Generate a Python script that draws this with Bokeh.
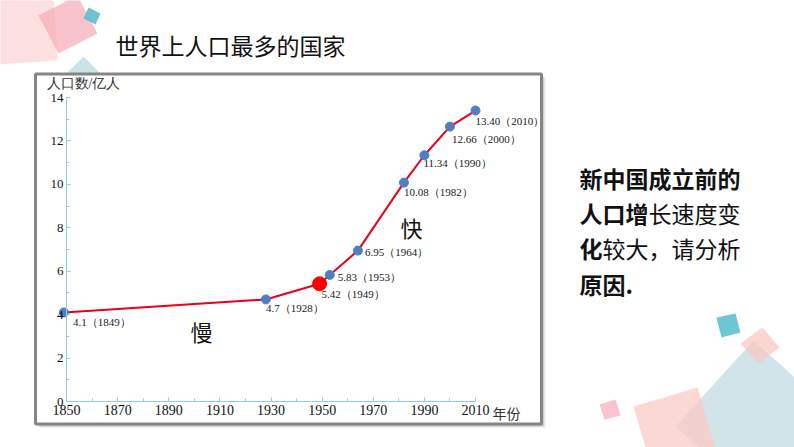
from bokeh.plotting import figure
from bokeh.models import ColumnDataSource, FixedTicker, Range1d
from bokeh.embed import file_html
from bokeh.resources import INLINE
from bokeh.core.properties import value

# ---------------- data ----------------
years = [1849, 1928, 1949, 1953, 1964, 1982, 1990, 2000, 2010]
population = [4.1, 4.7, 5.42, 5.83, 6.95, 10.08, 11.34, 12.66, 13.40]
point_labels = ["4.1（1849）", "4.7（1928）", "5.42（1949）", "5.83（1953）",
                "6.95（1964）", "10.08（1982）", "11.34（1990）", "12.66（2000）",
                "13.40（2010）"]
highlight_year = 1949
x_ticks = [1850, 1870, 1890, 1910, 1930, 1950, 1970, 1990, 2010]
x_minor = [1860, 1880, 1900, 1920, 1940, 1960, 1980, 2000]
y_ticks = [0, 2, 4, 6, 8, 10, 12, 14]
y_minor = [1, 3, 5, 7, 9, 11, 13]
title = "世界上人口最多的国家"
y_title = "人口数/亿人"
x_title = "年份"

# label offsets (pixels) – style, not data
label_dx = [9, 0, 2, 8, 7, 0, -1, 2, 0]
label_dy = [10, 9, 10, 2, 1, 9, 8, 12, 10]

# ---------------- layout mapping (page pixel -> data) ----------------
SX = 409 / 160.0   # px per year
SY = 304 / 14.0    # px per unit


def X(px):
    return 1850 + (px - 66) / SX


def Y(py):
    return (401 - py) / SY


W, H = 794, 447
p = figure(width=W, height=H, x_range=Range1d(X(0), X(W)),
           y_range=Range1d(Y(H), Y(0)), output_backend="svg",
           toolbar_location=None, min_border=0)
p.min_border_left = p.min_border_right = p.min_border_top = p.min_border_bottom = 0
p.outline_line_color = None
p.xgrid.visible = False
p.ygrid.visible = False
p.background_fill_color = "white"
p.border_fill_color = "white"


def poly(pts, color, alpha):
    p.patch([X(a) for a, b in pts], [Y(b) for a, b in pts],
            fill_color=color, fill_alpha=alpha, line_color=None)


# ---------------- decorations ----------------
poly([(-5, -5), (53, -5), (57, 60), (-5, 64)], "#fcd6d6", 0.75)
poly([(38, 15), (77, -5), (97, 33), (58, 53)], "#f7aab5", 0.7)
poly([(83, 18), (88, 7), (100, 13), (95, 24)], "#5dbccf", 0.9)
poly([(83, 56), (100, 73), (83, 90), (66, 73)], "#c6e0e3", 0.9)

poly([(675, 426), (753, 340), (840, 418), (762, 504)], "#c5dde4", 0.8)
poly([(633, 406), (697, 387), (716, 451), (652, 470)], "#fbcbc5", 0.75)
poly([(740, 343), (762, 327), (779, 347), (758, 363)], "#fbc6bf", 0.7)
poly([(716, 317), (735, 313), (740, 332), (721, 337)], "#5fc0d0", 0.9)
poly([(599, 404), (615, 399), (620, 415), (604, 419)], "#f8bccb", 0.9)

# ---------------- chart box with shadow ----------------
for i, a in enumerate([0.10, 0.10, 0.08, 0.06]):
    off = i + 1
    p.quad(left=[X(35 + off)], right=[X(541 + off)], top=[Y(73.5 + off)],
           bottom=[Y(423.5 + off)], fill_color="#000000", fill_alpha=a,
           line_color=None)
p.quad(left=[X(35)], right=[X(541)], top=[Y(73.5)], bottom=[Y(423.5)],
       fill_color="white", line_color="#858585", line_width=3)

# ---------------- data series ----------------
src = ColumnDataSource(dict(x=years, y=population, label=point_labels,
                            dx=label_dx, dy=label_dy))
p.line("x", "y", source=src, line_color="#e8001c", line_width=2)
blue_x = [yr for yr in years if yr != highlight_year]
blue_y = [v for yr, v in zip(years, population) if yr != highlight_year]
p.scatter(blue_x, blue_y, size=9, fill_color="#4f7fc0", line_color="#4f7fc0")
hi_y = [v for yr, v in zip(years, population) if yr == highlight_year]
p.scatter([highlight_year], hi_y, size=14, fill_color="#ff0000", line_color="#ff0000")
p.text("x", "y", text="label", source=src, x_offset="dx", y_offset="dy",
       text_font=value("Liberation Serif"), text_font_size="11px",
       text_align="left", text_baseline="middle", text_color="#1a1a1a")

# ---------------- axes ----------------
axis_color = "#92cde0"
xa = p.xaxis[0]
xa.fixed_location = 0
xa.bounds = (1850, 2010)
xa.ticker = FixedTicker(ticks=x_ticks, minor_ticks=x_minor)
ya = p.yaxis[0]
ya.fixed_location = 1850
ya.bounds = (0, 14)
ya.ticker = FixedTicker(ticks=y_ticks, minor_ticks=y_minor)
for ax, fs in ((xa, "14px"), (ya, "13px")):
    ax.axis_line_color = axis_color
    ax.major_tick_line_color = axis_color
    ax.minor_tick_line_color = axis_color
    ax.major_tick_in = 4
    ax.major_tick_out = 0
    ax.minor_tick_in = 3
    ax.minor_tick_out = 0
    ax.major_label_text_font = "Liberation Serif"
    ax.major_label_text_font_size = fs
    ax.major_label_text_color = "#111111"
    ax.major_label_standoff = 3

# ---------------- texts ----------------
CJK = value("Noto Sans CJK SC")
p.text([X(46)], [Y(83)], text=[y_title], text_font=value("Liberation Serif"),
       text_font_size="14px", text_align="left", text_baseline="middle",
       text_color="#333333")
p.text([X(492)], [Y(412)], text=[x_title], text_font=CJK, text_font_size="14px",
       text_align="left", text_baseline="middle", text_color="#333333")
p.text([X(115)], [Y(44)], text=[title], text_font=CJK, text_font_size="23px",
       text_align="left", text_baseline="middle", text_color="#111111")
p.text([X(201)], [Y(330)], text=["慢"], text_font=CJK, text_font_size="22px",
       text_align="center", text_baseline="middle", text_color="#111111")
p.text([X(411)], [Y(226)], text=["快"], text_font=CJK, text_font_size="22px",
       text_align="center", text_baseline="middle", text_color="#111111")

side = [
    (579, 177, "新中国成立前的", "bold"),
    (579, 212, "人口增", "bold"),
    (648, 212, "长速度变", "normal"),
    (579, 247, "化", "bold"),
    (602, 247, "较大，请分析", "normal"),
    (579, 283, "原因.", "bold"),
]
for px, py, t, st in side:
    p.text([X(px)], [Y(py)], text=[t], text_font=CJK, text_font_size="23px",
           text_font_style=st, text_align="left", text_baseline="middle",
           text_color="#111111")

open("out.html", "w").write(file_html(p, INLINE))
